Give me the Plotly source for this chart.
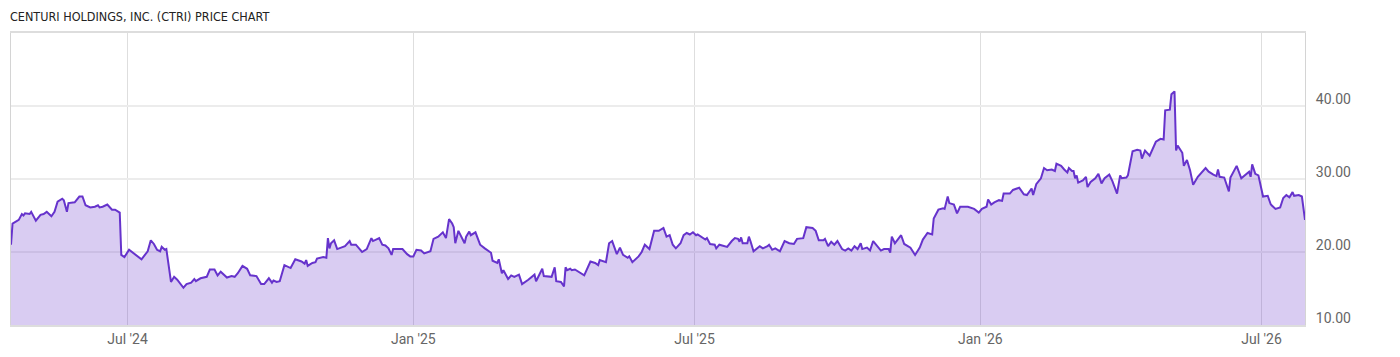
import pandas as pd
import plotly.graph_objects as go

title_text = "CENTURI HOLDINGS, INC. (CTRI) PRICE CHART"
base_date = "2024-07-01"

# trading day offsets (days from base_date)
day_offset = [
    -75, -74, -70, -68, -67, -66, -63, -62, -59, -56, -54, -52, -49, -47, -45, -42, -41, -39, -38, -34,
    -31, -29, -27, -24, -21, -19, -18, -16, -13, -10, -8, -5, -4, -2, 1, 5, 9, 13, 15, 17,
    19, 21, 22, 24, 25, 28, 30, 32, 36, 38, 41, 43, 44, 47, 50, 51, 53, 56, 58, 60,
    64, 67, 69, 71, 74, 77, 79, 83, 86, 88, 91, 93, 94, 96, 98, 101, 105, 108, 112, 114,
    115, 116, 119, 121, 122, 125, 126, 128, 129, 130, 131, 133, 135, 140, 143, 144, 147, 151, 154, 157,
    158, 160, 162, 164, 166, 168, 170, 171, 177, 180, 182, 184, 186, 189, 191, 195, 197, 200, 203, 205,
    207, 209, 210, 211, 213, 217, 218, 220, 221, 224, 227, 230, 234, 235, 238, 239, 241, 242, 245, 247,
    249, 252, 254, 258, 262, 263, 267, 268, 273, 275, 276, 279, 281, 282, 283, 285, 286, 288, 292, 294,
    298, 301, 303, 304, 308, 310, 312, 315, 317, 319, 322, 323, 325, 327, 329, 331, 333, 336, 339, 342,
    345, 347, 349, 351, 353, 356, 358, 360, 362, 364, 366, 367, 372, 373, 375, 378, 379, 381, 386, 389,
    391, 393, 394, 395, 396, 399, 400, 401, 403, 407, 409, 412, 413, 415, 417, 420, 423, 426, 429, 431,
    435, 437, 441, 443, 445, 448, 449, 451, 453, 455, 457, 460, 462, 464, 466, 468, 470, 472, 473, 476,
    478, 480, 482, 485, 487, 490, 491, 492, 494, 498, 500, 504, 507, 510, 512, 515, 518, 519, 522, 525,
    526, 528, 529, 532, 534, 536, 541, 545, 548, 550, 553, 554, 556, 558, 561, 563, 564, 568, 570, 574,
    577, 579, 582, 583, 585, 588, 590, 592, 595, 597, 598, 601, 603, 605, 606, 608, 609, 610, 611, 612,
    615, 617, 618, 620, 623, 625, 627, 629, 632, 634, 637, 639, 640, 643, 644, 647, 650, 652, 653, 655,
    658, 661, 662, 665, 667, 668, 671, 672, 674, 675, 676, 679, 680, 682, 684, 686, 689, 694, 696, 699,
    701, 702, 703, 706, 709, 710, 714, 717, 720, 722, 723, 724, 726, 728, 731, 734, 736, 739, 742, 744,
    746, 748, 750, 751, 754, 756, 758,
]

close_price = [
    21.0, 23.9, 24.4, 25.2, 25.0, 25.3, 25.2, 25.5, 24.3, 25.1, 25.2, 25.5, 24.9, 25.5, 26.9, 27.3, 27.1, 25.5, 26.7, 26.8,
    27.6, 27.6, 26.4, 26.1, 26.2, 26.4, 26.1, 26.2, 26.5, 25.8, 25.8, 25.4, 19.6, 19.3, 20.3, 19.7, 19.0, 20.1, 21.6, 21.1,
    20.3, 20.1, 20.7, 20.3, 20.4, 15.9, 16.6, 16.2, 15.1, 15.6, 15.8, 16.3, 16.0, 16.4, 16.5, 16.6, 17.6, 17.6, 16.8, 17.3,
    16.5, 16.7, 16.6, 17.1, 18.1, 17.7, 16.8, 16.7, 15.6, 15.6, 16.4, 15.8, 16.1, 15.9, 16.0, 18.2, 17.8, 19.0, 18.7, 18.4,
    18.9, 18.1, 18.5, 18.6, 19.1, 19.2, 19.3, 19.2, 21.9, 20.5, 21.2, 21.6, 20.4, 20.8, 21.5, 21.0, 21.0, 20.0, 20.4, 21.9,
    21.5, 21.7, 21.9, 21.0, 20.9, 20.5, 19.6, 20.4, 20.4, 19.7, 19.4, 19.4, 20.3, 20.2, 19.8, 20.1, 21.8, 22.1, 22.7, 21.9,
    24.5, 23.9, 23.4, 21.2, 22.9, 21.2, 22.1, 22.8, 22.3, 22.7, 21.0, 20.5, 19.9, 18.8, 18.5, 19.0, 17.1, 17.5, 16.3, 16.8,
    16.6, 16.9, 15.6, 16.2, 16.9, 16.0, 17.7, 16.7, 16.6, 17.9, 16.0, 15.9, 15.3, 17.9, 17.5, 17.7, 17.5, 17.6, 17.0, 16.8,
    18.7, 18.5, 18.2, 18.9, 18.6, 21.2, 21.5, 19.7, 20.6, 19.6, 19.2, 19.4, 18.6, 19.0, 19.4, 20.0, 21.0, 20.4, 22.9, 22.9,
    23.3, 22.1, 22.3, 21.0, 20.5, 21.2, 22.3, 22.6, 22.4, 22.7, 22.3, 22.4, 21.7, 21.9, 21.1, 21.0, 20.5, 21.0, 20.7, 21.5,
    21.9, 21.8, 21.4, 22.0, 21.2, 21.2, 22.1, 21.5, 20.1, 20.8, 20.5, 20.8, 21.0, 20.3, 20.5, 20.1, 21.5, 21.2, 21.1, 21.8,
    21.9, 23.4, 23.3, 22.9, 21.6, 21.6, 21.8, 20.8, 21.4, 21.0, 21.5, 20.4, 20.2, 20.5, 20.2, 20.8, 20.4, 21.2, 20.4, 20.6,
    20.2, 21.5, 21.0, 20.2, 20.4, 20.4, 19.9, 22.1, 21.2, 22.3, 21.1, 20.6, 19.6, 20.6, 21.7, 22.6, 22.4, 24.6, 25.8, 26.0,
    25.9, 27.6, 26.7, 26.5, 25.3, 26.2, 26.2, 25.9, 25.4, 25.9, 26.2, 27.2, 26.5, 26.8, 27.1, 27.0, 28.0, 28.0, 28.5, 28.8,
    27.9, 27.8, 28.7, 27.8, 29.3, 30.1, 31.5, 31.2, 31.3, 31.1, 32.1, 31.8, 31.3, 30.9, 31.5, 31.1, 31.1, 30.1, 30.5, 29.5,
    29.8, 30.3, 28.9, 29.6, 30.1, 30.7, 29.4, 30.1, 30.6, 29.7, 28.0, 30.5, 30.1, 30.2, 30.5, 33.8, 34.0, 33.9, 32.8, 33.9,
    33.2, 34.6, 35.1, 35.5, 35.4, 39.4, 39.5, 41.6, 42.0, 33.9, 34.6, 33.6, 31.8, 32.6, 31.2, 29.2, 30.3, 31.5, 31.0, 30.6,
    30.4, 31.3, 30.3, 30.2, 28.3, 30.2, 31.8, 30.1, 30.7, 31.0, 30.3, 32.0, 30.7, 30.5, 27.6, 27.7, 26.5, 25.9, 26.1, 27.4,
    27.8, 27.5, 28.2, 27.7, 27.8, 27.6, 24.4,
]

y_ticks = [10, 20, 30, 40]
y_range = [10, 50]

dates = pd.Timestamp(base_date) + pd.to_timedelta(day_offset, unit="D")

tick_font = "Roboto, sans-serif"
title_font = "DejaVu Sans Condensed, Roboto, sans-serif"

fig = go.Figure()
fig.add_trace(go.Scatter(
    x=dates,
    y=close_price,
    mode="lines",
    line=dict(color="#6633cc", width=2),
    fill="tozeroy",
    fillcolor="rgba(102,51,204,0.25)",
    hoverinfo="x+y",
))

fig.update_layout(
    width=1400,
    height=357,
    margin=dict(l=10, r=95, t=33, b=30),
    paper_bgcolor="white",
    plot_bgcolor="white",
    showlegend=False,
    font=dict(family=tick_font, color="#666666", size=14),
    title=dict(
        text=title_text,
        x=10 / 1400, xref="container", xanchor="left",
        y=1 - 17 / 357, yref="container", yanchor="middle",
        font=dict(family=title_font, size=12.5, color="#222222"),
    ),
    xaxis=dict(
        type="date",
        range=[dates.min(), dates.max()],
        tick0=base_date,
        dtick="M6",
        tickformat="%b '%y",
        showgrid=True,
        gridcolor="#dedede",
        gridwidth=1,
        showline=True,
        linecolor="#dddddd",
        linewidth=2,
        mirror=True,
        ticks="",
        zeroline=False,
        tickfont=dict(family=tick_font, size=14, color="#666666"),
    ),
    yaxis=dict(
        side="right",
        range=y_range,
        tickvals=y_ticks,
        tickformat=".2f",
        showgrid=True,
        gridcolor="#ececec",
        gridwidth=2,
        showline=True,
        linecolor="#d4d4d4",
        linewidth=1,
        mirror=True,
        ticks="",
        zeroline=False,
        ticklabelshift=-7,
        ticklabelstandoff=7,
        tickfont=dict(family=tick_font, size=14, color="#666666"),
    ),
)

fig.write_html("out.html")
